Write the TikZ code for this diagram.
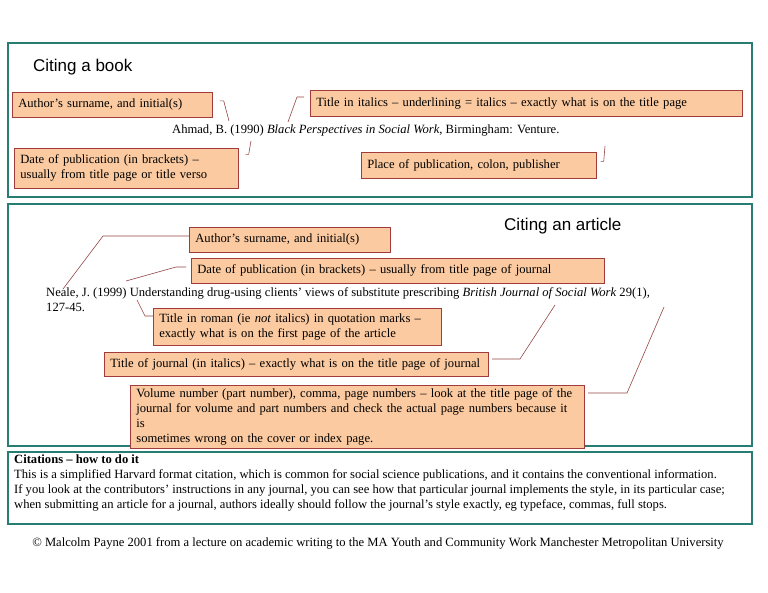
\documentclass[tikz,border=0pt]{standalone}
\usepackage{fontspec}
\setmainfont{Liberation Serif}
\newfontfamily\hel{Liberation Sans}
\definecolor{teal1}{RGB}{40,125,115}
\definecolor{peach}{RGB}{251,202,160}
\definecolor{brd}{RGB}{160,60,60}
\definecolor{lnk}{RGB}{150,70,70}
\begin{document}
\begin{tikzpicture}[x=1pt,y=-1pt,
 panel/.style={draw=teal1,line width=1.6pt},
 cbox/.style={draw=brd,fill=peach,line width=0.7pt,anchor=north west,align=left,inner xsep=6pt,inner ysep=3pt,font=\fontsize{12.6}{15}\selectfont},
 cite/.style={anchor=base west,inner sep=0pt,font=\fontsize{12.6}{15}\selectfont},
 conn/.style={draw=lnk,line width=0.6pt},
 head/.style={anchor=west,inner sep=0pt,font=\hel\fontsize{17}{20}\selectfont}]
\useasboundingbox (0,0) rectangle (768,593);
\fill[white] (0,0) rectangle (768,593);
\draw[panel] (8,43) rectangle (752,197);
\draw[panel] (8,204) rectangle (752,446);
\draw[draw=teal1,line width=1.2pt] (8,452) rectangle (752,524);
% top
\node[head] (h1) at (33,67) {Citing a book};
\node[cbox,text width=188pt,minimum height=25pt] (a1) at (12,92) {Author’s surname, and initial(s)};
\node[cbox,text width=420pt,minimum height=26pt] (a2) at (310,90) {Title in italics – underlining = italics – exactly what is on the title page};
\node[cbox,text width=212pt,minimum height=40pt] (a3) at (14,148) {Date of publication (in brackets) –\\usually from title page or title verso};
\node[cbox,text width=223pt,minimum height=26pt] (a4) at (361,152) {Place of publication, colon, publisher};
\node[cite] (c1) at (172,134) {Ahmad, B. (1990) \textit{Black Perspectives in Social Work}, Birmingham: Venture.};
\coordinate (p1) at (229,121); \coordinate (p2) at (288,122);
\coordinate (p3) at (251,141); \coordinate (p4) at (605,146);
\draw[conn] (a1.east)++(7,-4) -- ++(4,0) -- (p1);
\draw[conn] (p2) -- (297,97) -- (304,97);
\draw[conn] (a3.east)++(7,-14) -- ++(3,0) -- (p3);
\draw[conn] (a4.east)++(4,-4) -- ++(3,0) -- (p4);
% middle
\node[head] (h2) at (504,226) {Citing an article};
\node[cbox,text width=189pt,minimum height=25pt] (b1) at (189,227) {Author’s surname, and initial(s)};
\node[cbox,text width=401pt,minimum height=25pt] (b2) at (191,258) {Date of publication (in brackets) – usually from title page of journal};
\node[cite] (c2) at (46,297) {Neale, J. (1999) Understanding drug-using clients’ views of substitute prescribing \textit{British Journal of Social Work} 29(1),};
\node[cite] (c3) at (46,312) {127-45.};
\node[cbox,text width=276pt,minimum height=37pt] (b3) at (153,308) {Title in roman (ie \textit{not} italics) in quotation marks –\\exactly what is on the first page of the article};
\node[cbox,text width=372pt,minimum height=24pt] (b4) at (104,352) {Title of journal (in italics) – exactly what is on the title page of journal};
\node[cbox,text width=442pt,minimum height=55pt] (b5) at (130,385) {Volume number (part number), comma, page numbers – look at the title page of the\\journal for volume and part numbers and check the actual page numbers because it is\\sometimes wrong on the cover or index page.};
\coordinate (q1) at (63,289); \coordinate (q2) at (126,281); \coordinate (q3) at (137,300);
\coordinate (q4) at (555,305); \coordinate (q5) at (664,307);
\draw[conn] (q1) -- (103,236) -- (b1.west|-0,236);
\draw[conn] (q2) -- (176,267) -- (186,267);
\draw[conn] (q3) -- (145,316) -- (b3.west|-0,316);
\draw[conn] (q4) -- (520,359) -- (492,359);
\draw[conn] (q5) -- (627,393) -- (588,393);
% bottom
\node[anchor=north west,inner sep=0pt,align=left,font=\fontsize{12.6}{15}\selectfont] (t) at (14,455) {\textbf{Citations – how to do it}\\This is a simplified Harvard format citation, which is common for social science publications, and it contains the conventional information.\\If you look at the contributors’ instructions in any journal, you can see how that particular journal implements the style, in its particular case;\\when submitting an article for a journal, authors ideally should follow the journal’s style exactly, eg typeface, commas, full stops.};
\node[anchor=base,inner sep=0pt,font=\fontsize{12.6}{15}\selectfont] (f) at (378,546) {© Malcolm Payne 2001 from a lecture on academic writing to the MA Youth and Community Work Manchester Metropolitan University};
\end{tikzpicture}
\end{document}
